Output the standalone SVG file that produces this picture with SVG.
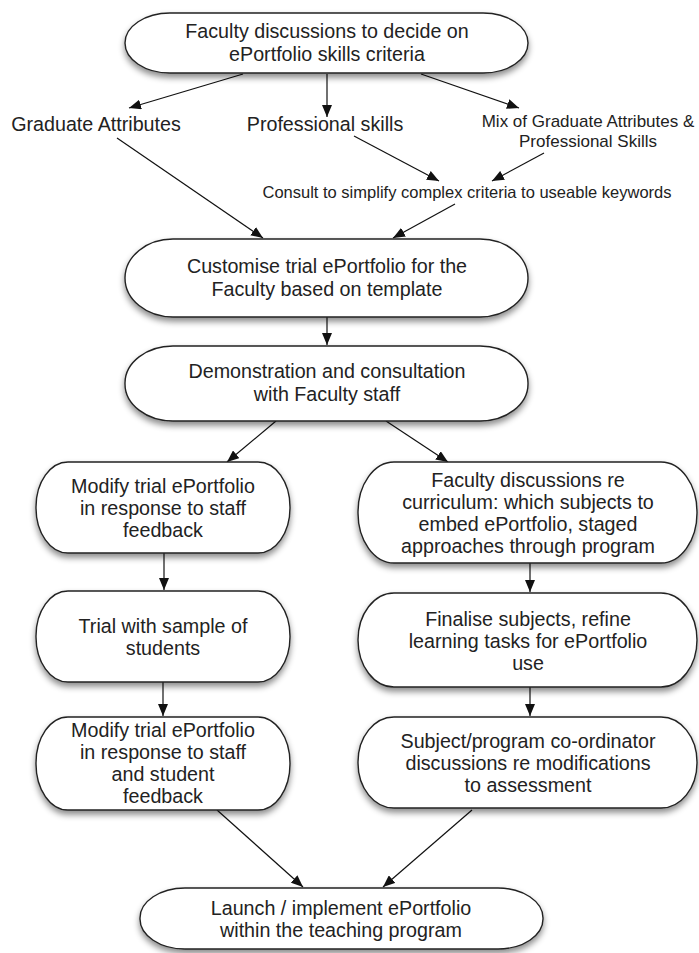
<svg xmlns="http://www.w3.org/2000/svg" width="699" height="953" viewBox="0 0 699 953">
<defs>
<filter id="sh" x="-10%" y="-20%" width="120%" height="150%">
<feDropShadow dx="0" dy="4" stdDeviation="3" flood-color="#000" flood-opacity="0.45"/>
</filter>
<marker id="ah" viewBox="0 0 12 10" refX="12" refY="5" markerWidth="12" markerHeight="10" orient="auto" markerUnits="userSpaceOnUse">
<path d="M0,0 L12,5 L0,10 z" fill="#111"/>
</marker>
</defs>
<style>
.node rect{fill:#fff;stroke:#222;stroke-width:1.4;filter:url(#sh)}
text{font-family:"Liberation Sans",Arial,Helvetica,sans-serif;fill:#222;text-anchor:middle}
.t{font-size:19.7px}
.s{font-size:17px}
.c{font-size:16.5px}
.conn line{stroke:#111;stroke-width:1.2;marker-end:url(#ah)}
</style>
<rect width="699" height="953" fill="#fff"/>

<g class="conn" id="connectors">
<line x1="243" y1="74" x2="129" y2="108"/>
<line x1="327" y1="74" x2="327" y2="117"/>
<line x1="421" y1="74" x2="519" y2="108"/>
<line x1="117" y1="138" x2="263" y2="238"/>
<line x1="354" y1="136" x2="439" y2="181"/>
<line x1="544" y1="153" x2="492" y2="181"/>
<line x1="455" y1="204" x2="393" y2="238"/>
<line x1="327" y1="317" x2="327" y2="345"/>
<line x1="276" y1="421" x2="227" y2="462"/>
<line x1="386" y1="421" x2="448" y2="462"/>
<line x1="164" y1="553" x2="164" y2="590"/>
<line x1="530" y1="563" x2="530" y2="592"/>
<line x1="163" y1="682" x2="163" y2="716"/>
<line x1="530" y1="687" x2="530" y2="716"/>
<line x1="217" y1="810" x2="303" y2="887"/>
<line x1="472" y1="810" x2="383" y2="887"/>
</g>

<g class="node" id="n1">
<rect x="125" y="13" width="403" height="60" rx="45" ry="30"/>
<text class="t" x="327" y="38">Faculty discussions to decide on</text>
<text class="t" x="327" y="61">ePortfolio skills criteria</text>
</g>

<g id="l-grad"><text class="t" x="96" y="131">Graduate Attributes</text></g>
<g id="l-prof"><text class="t" x="325" y="131">Professional skills</text></g>
<g id="l-mix">
<text class="s" x="588" y="127">Mix of Graduate Attributes &amp;</text>
<text class="s" x="588" y="147">Professional Skills</text>
</g>
<g id="l-consult"><text class="c" x="467" y="198">Consult to simplify complex criteria to useable keywords</text></g>

<g class="node" id="n2">
<rect x="125" y="239" width="403" height="78" rx="48" ry="39"/>
<text class="t" x="327" y="273">Customise trial ePortfolio for the</text>
<text class="t" x="327" y="296">Faculty based on template</text>
</g>

<g class="node" id="n3">
<rect x="125" y="346" width="403" height="75" rx="48" ry="37"/>
<text class="t" x="327" y="378">Demonstration and consultation</text>
<text class="t" x="327" y="401">with Faculty staff</text>
</g>

<g class="node" id="nA">
<rect x="36" y="462" width="254" height="91" rx="32" ry="45"/>
<text class="t" x="163" y="493">Modify trial ePortfolio</text>
<text class="t" x="163" y="515">in response to staff</text>
<text class="t" x="163" y="537">feedback</text>
</g>

<g class="node" id="nB">
<rect x="358" y="462" width="339" height="101" rx="36" ry="50"/>
<text class="t" x="528" y="487">Faculty discussions re</text>
<text class="t" x="528" y="509">curriculum: which subjects to</text>
<text class="t" x="528" y="531">embed ePortfolio, staged</text>
<text class="t" x="528" y="553">approaches through program</text>
</g>

<g class="node" id="nC">
<rect x="36" y="591" width="254" height="91" rx="32" ry="45"/>
<text class="t" x="163" y="633">Trial with sample of</text>
<text class="t" x="163" y="655">students</text>
</g>

<g class="node" id="nD">
<rect x="358" y="593" width="339" height="94" rx="36" ry="47"/>
<text class="t" x="528" y="626">Finalise subjects, refine</text>
<text class="t" x="528" y="648">learning tasks for ePortfolio</text>
<text class="t" x="528" y="670">use</text>
</g>

<g class="node" id="nE">
<rect x="36" y="717" width="254" height="93" rx="32" ry="46"/>
<text class="t" x="163" y="737">Modify trial ePortfolio</text>
<text class="t" x="163" y="759">in response to staff</text>
<text class="t" x="163" y="781">and student</text>
<text class="t" x="163" y="803">feedback</text>
</g>

<g class="node" id="nF">
<rect x="358" y="717" width="339" height="91" rx="36" ry="45"/>
<text class="t" x="528" y="748">Subject/program co-ordinator</text>
<text class="t" x="528" y="770">discussions re modifications</text>
<text class="t" x="528" y="792">to assessment</text>
</g>

<g class="node" id="nG">
<rect x="140" y="888" width="403" height="61" rx="45" ry="30"/>
<text class="t" x="341" y="915">Launch / implement ePortfolio</text>
<text class="t" x="341" y="937">within the teaching program</text>
</g>
</svg>
